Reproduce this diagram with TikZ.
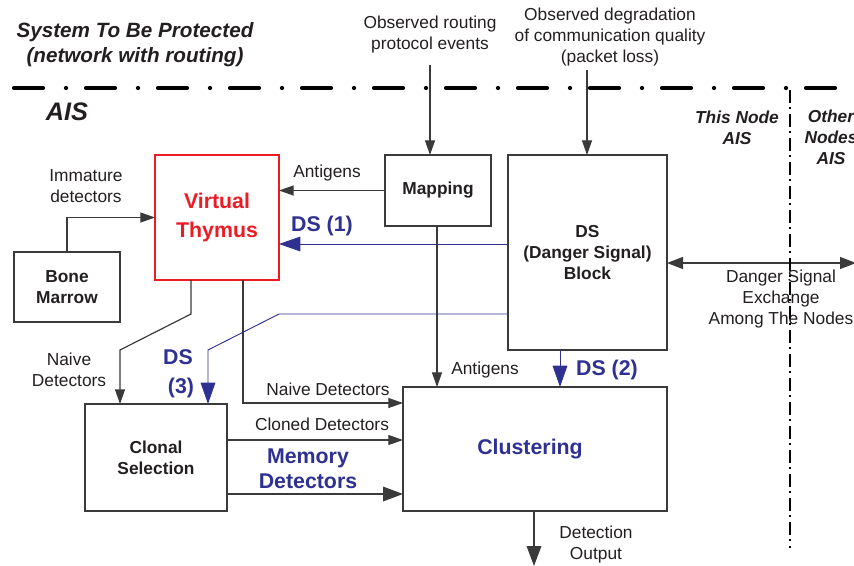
\documentclass[tikz,border=0pt]{standalone}
\usepackage{fontspec}
\setmainfont{Liberation Sans}
\usetikzlibrary{arrows.meta}
\definecolor{dsblue}{HTML}{2E3192}
\definecolor{thred}{HTML}{ED1C24}
\definecolor{txt}{HTML}{231F20}
\definecolor{linec}{HTML}{3A3A3A}
\begin{document}
\begin{tikzpicture}[x=0.75pt,y=-0.75pt,
  lbl/.style={text=txt, align=center, inner sep=0pt, font={\fontsize{13}{15.75}\selectfont}},
  lblbi/.style={text=txt, align=center, inner sep=0pt, font={\fontsize{13}{15.75}\selectfont\bfseries\itshape}},
  bluelbl/.style={text=dsblue, align=center, inner sep=0pt, font={\fontsize{16}{18.75}\selectfont\bfseries}},
  box/.style={draw=linec, line width=1pt, inner sep=0pt, outer sep=0pt, align=center, text=txt,
    font={\fontsize{13}{16}\selectfont\bfseries}},
  arr/.style={draw=linec, line width=0.9pt, -{Triangle[length=11pt,width=7.5pt]}},
  barr/.style={draw=linec, line width=0.9pt, -{Triangle[length=15pt,width=11pt]}},
  bluearr/.style={draw=dsblue, line width=0.7pt, -{Triangle[length=16pt,width=11pt]}},
  dblarr/.style={draw=linec, line width=0.9pt, {Triangle[length=12pt,width=9pt]}-{Triangle[length=12pt,width=9pt]}}
]
\useasboundingbox (0,0) rectangle (854,565);
\clip (0,0) rectangle (854,565);

% boundary lines
\draw[line width=3.2pt, line cap=round, dash pattern=on 21.75pt off 17.25pt on 0pt off 15pt] (14,88) -- (836,88);

% titles
\node[text=txt, align=center, inner sep=0pt, font={\fontsize{15.5}{18.75}\selectfont\bfseries\itshape}] (sys) at (135,45) {System To Be Protected\\(network with routing)};
\node[text=txt, inner sep=0pt, font={\fontsize{19}{22}\selectfont\bfseries\itshape}] (ais) at (67,112) {AIS};
\node[lblbi] (thisnode) at (737,127.5) {This Node\\AIS};
\node[lblbi] (othernodes) at (831,137) {Other\\Nodes\\AIS};

% inputs
\node[lbl] (obs1) at (430,35) {Observed routing\\protocol events};
\node[lbl] (obs2) at (610,37) {Observed degradation\\of communication quality\\(packet loss)};

% boxes
\node[box, draw=thred, text=thred, font={\fontsize{16}{21.75}\selectfont\bfseries}, minimum width=93pt, minimum height=93.75pt] (thymus) at (217,217.5) {Virtual\\Thymus};
\node[box, minimum width=79.5pt, minimum height=52.5pt] (bone) at (67,287) {Bone\\Marrow};
\node[box, minimum width=79.5pt, minimum height=53.25pt] (mapping) at (438,190.5) {Mapping};
\node[box, minimum width=119.25pt, minimum height=146.25pt] (dsb) at (587.5,252.5) {DS\\(Danger Signal)\\Block};
\node[box, minimum width=106.5pt, minimum height=80.25pt] (clonal) at (156,457.5) {Clonal\\Selection};
\node[box, minimum width=198pt, minimum height=93pt] (clust) at (535,449) {};
\node[bluelbl] (clusttxt) at (530,449) {Clustering};

% connectors
\coordinate (in1) at (430,65);
\coordinate (in2) at (587,70);
\draw[arr] (in1) -- (mapping.north -| in1);
\draw[arr] (in2) -- (dsb.north -| in2);

\draw[arr] (bone.north) |- (thymus.west);
\node[lbl] (immlbl) at (86,186) {Immature\\detectors};

\draw[arr] (mapping.west) -- (mapping.west -| thymus.east);
\node[lbl] (antlbl1) at (327,173) {Antigens};

\draw[bluearr] (dsb.west |- 0,244) -- (thymus.east |- 0,244);
\node[bluelbl] (ds1) at (322,226) {DS (1)};

\draw[arr] (thymus.south -| 191,0) -- (191,314) -- (120,350) -- (clonal.north -| 120,0);
\node[lbl] (naivelbl1) at (69,370) {Naive\\Detectors};

\draw[arr] (thymus.south -| 243,0) |- (clust.west |- 0,403);
\node[lbl] (naivelbl2) at (328,389) {Naive Detectors};

\draw[bluearr] (dsb.west |- 0,314) -- (279,314) -- (208,350) -- (clonal.north -| 208,0);
\node[bluelbl] (ds3a) at (178,357) {DS};
\node[bluelbl] (ds3b) at (181,388) {(3)};

\draw[arr] (mapping.south -| 437,0) -- (clust.north -| 437,0);
\node[lbl] (antlbl2) at (485,370) {Antigens};

\draw[bluearr] (dsb.south -| 560,0) -- (clust.north -| 560,0);
\node[bluelbl] (ds2) at (607,370) {DS (2)};

\draw[arr] (clonal.east |- 0,440) -- (clust.west |- 0,440);
\node[lbl] (clonedlbl) at (322,424) {Cloned Detectors};

\draw[barr] (clonal.east |- 0,494) -- (clust.west |- 0,494);
\node[bluelbl] (memlbl) at (308,468.5) {Memory\\Detectors};

\coordinate (exR) at (856,263);
\draw[dblarr] (dsb.east |- 0,263) -- (exR);
\node[lbl] (exlbl) at (781,299.5) {Danger Signal\\Exchange\\Among The Nodes};

\coordinate (detout) at (534,566);
\draw[barr] (clust.south -| detout) -- (detout);
\node[lbl] (detlbl) at (596,544.5) {Detection\\Output};

% vertical boundary
\draw[line width=2pt, dash pattern=on 10pt off 3pt on 1.5pt off 3.5pt] (790,90) -- (790,548);
\end{tikzpicture}
\end{document}
